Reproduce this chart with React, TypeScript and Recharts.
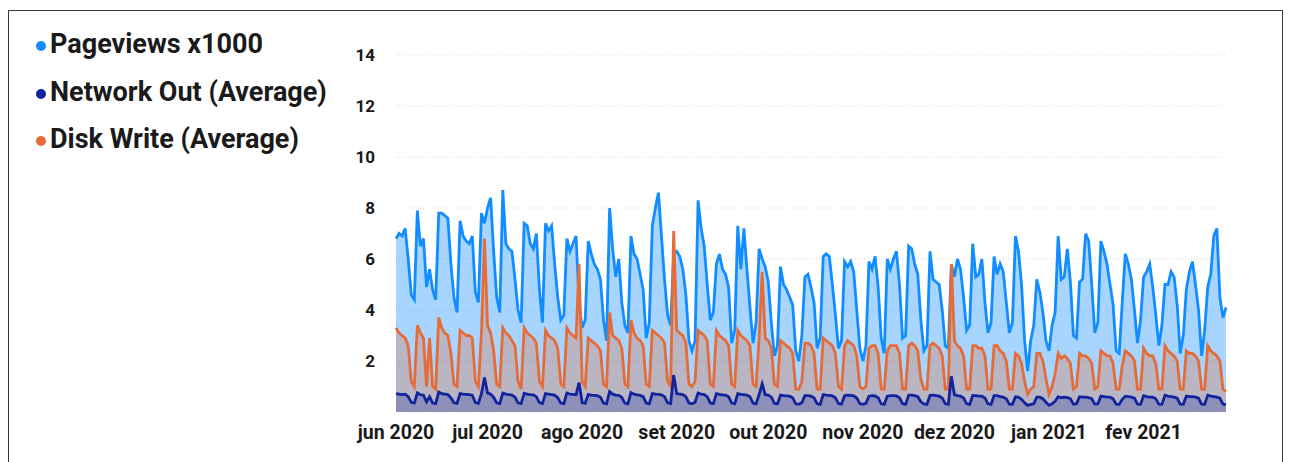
import React from 'react';
import { ComposedChart, Area, XAxis, YAxis, CartesianGrid } from 'recharts';

// Daily data from 1 Jun 2020 (Mon) to 28 Feb 2021 (Sun), one row per week (Mon..Sun)
const monthTicks = [0, 30, 61, 92, 122, 153, 183, 214, 245];
const monthLabels = ['jun 2020', 'jul 2020', 'ago 2020', 'set 2020', 'out 2020', 'nov 2020', 'dez 2020', 'jan 2021', 'fev 2021'];
const yTicks = [2, 4, 6, 8, 10, 12, 14];

const pageviews = [
  6.8, 7.0, 6.9, 7.2, 6.0, 4.6, 4.4,
  7.9, 6.5, 6.8, 4.9, 5.6, 4.8, 4.4,
  7.8, 7.8, 7.7, 7.6, 5.8, 4.5, 3.9,
  7.5, 6.9, 6.7, 6.6, 6.9, 4.7, 4.3,
  7.8, 7.4, 8.0, 8.4, 6.3, 4.5, 3.9,
  8.7, 6.6, 6.4, 6.3, 5.2, 4.0, 3.5,
  7.4, 7.3, 6.6, 6.4, 7.0, 4.8, 3.5,
  7.4, 7.1, 7.3, 5.8, 4.5, 3.6, 3.8,
  6.8, 6.3, 6.6, 6.9, 4.3, 3.3, 3.6,
  6.7, 6.2, 5.8, 5.6, 5.2, 3.6, 2.8,
  8.0, 6.4, 5.3, 6.0, 4.3, 3.4, 3.1,
  6.9, 6.2, 6.0, 5.4, 4.8, 2.9, 3.5,
  7.3, 8.0, 8.6, 6.9, 5.2, 3.8, 3.4,
  6.2, 6.3, 6.1, 5.6, 4.6, 2.8, 2.4,
  2.8, 8.3, 7.2, 6.5, 5.0, 3.6, 3.9,
  5.8, 6.2, 5.6, 5.4, 4.9, 2.7, 3.2,
  7.3, 5.6, 7.2, 5.6, 4.1, 2.7, 3.5,
  6.4, 6.0, 5.7, 5.1, 3.5, 2.2, 2.6,
  5.7, 5.0, 4.8, 4.5, 4.2, 2.4, 2.0,
  3.0, 5.3, 5.4, 4.9, 4.3, 2.5, 2.9,
  6.1, 6.2, 6.1, 5.0, 3.8, 2.5, 2.8,
  5.9, 5.7, 5.9, 5.5, 4.0, 2.5, 2.0,
  2.6, 5.9, 5.6, 6.1, 4.9, 2.9, 2.3,
  6.0, 5.6, 6.0, 6.3, 5.0, 2.9, 3.0,
  6.5, 6.4, 5.8, 5.4, 3.6, 2.4, 2.6,
  6.3, 5.2, 5.1, 5.0, 4.0, 2.6, 2.5,
  5.8, 5.3, 6.0, 5.6, 4.5, 3.2, 3.4,
  6.6, 5.3, 5.4, 6.0, 4.3, 3.1, 3.5,
  6.1, 5.4, 5.8, 5.5, 4.3, 3.1, 3.5,
  6.9, 6.3, 5.0, 2.8, 1.6, 2.8, 3.4,
  5.2, 4.7, 3.9, 2.8, 2.4, 3.4, 3.9,
  6.9, 5.2, 5.3, 6.4, 5.1, 3.0, 2.9,
  5.1, 5.2, 7.0, 6.7, 5.0, 3.1, 3.5,
  6.7, 6.3, 5.8, 5.0, 4.2, 2.4, 2.3,
  4.3, 6.2, 5.8, 5.2, 4.0, 2.7, 3.6,
  5.3, 5.5, 5.8, 4.9, 3.8, 2.6, 3.4,
  5.0, 5.0, 5.5, 5.3, 4.2, 2.3, 3.0,
  4.8, 5.5, 5.9, 5.0, 4.0, 2.2, 3.2,
  4.9, 5.4, 6.9, 7.2, 4.5, 3.7, 4.1,
];

const networkOut = [
  0.72, 0.70, 0.68, 0.70, 0.60, 0.38, 0.35,
  0.75, 0.68, 0.66, 0.40, 0.60, 0.35, 0.33,
  0.78, 0.72, 0.70, 0.68, 0.55, 0.36, 0.34,
  0.72, 0.70, 0.69, 0.68, 0.66, 0.37, 0.34,
  0.72, 1.35, 0.75, 0.70, 0.58, 0.36, 0.33,
  0.74, 0.70, 0.68, 0.66, 0.58, 0.36, 0.33,
  0.73, 0.70, 0.68, 0.67, 0.60, 0.37, 0.33,
  0.72, 0.70, 0.68, 0.66, 0.56, 0.35, 0.33,
  0.74, 0.70, 0.69, 0.68, 1.15, 0.37, 0.34,
  0.68, 0.66, 0.65, 0.64, 0.58, 0.35, 0.32,
  0.80, 0.70, 0.66, 0.65, 0.57, 0.35, 0.32,
  0.76, 0.70, 0.67, 0.65, 0.60, 0.35, 0.32,
  0.72, 0.70, 0.69, 0.67, 0.60, 0.36, 0.33,
  1.45, 0.72, 0.70, 0.68, 0.60, 0.35, 0.32,
  0.38, 0.74, 0.70, 0.68, 0.60, 0.35, 0.33,
  0.72, 0.69, 0.67, 0.66, 0.60, 0.35, 0.32,
  0.72, 0.69, 0.68, 0.66, 0.60, 0.35, 0.32,
  0.68, 1.10, 0.68, 0.66, 0.58, 0.34, 0.32,
  0.66, 0.64, 0.63, 0.62, 0.56, 0.32, 0.30,
  0.36, 0.64, 0.64, 0.62, 0.56, 0.32, 0.30,
  0.68, 0.66, 0.65, 0.63, 0.56, 0.33, 0.31,
  0.64, 0.66, 0.65, 0.63, 0.55, 0.33, 0.30,
  0.34, 0.62, 0.64, 0.63, 0.56, 0.32, 0.30,
  0.62, 0.64, 0.64, 0.63, 0.56, 0.32, 0.30,
  0.66, 0.66, 0.64, 0.60, 0.40, 0.32, 0.30,
  0.65, 0.66, 0.64, 0.62, 0.55, 0.32, 0.30,
  1.40, 0.68, 0.64, 0.62, 0.55, 0.32, 0.30,
  0.65, 0.64, 0.62, 0.62, 0.55, 0.32, 0.30,
  0.64, 0.64, 0.60, 0.58, 0.52, 0.31, 0.30,
  0.60, 0.58, 0.50, 0.36, 0.26, 0.30, 0.32,
  0.58, 0.58, 0.52, 0.38, 0.26, 0.32, 0.42,
  0.60, 0.56, 0.58, 0.56, 0.52, 0.31, 0.32,
  0.60, 0.58, 0.58, 0.56, 0.52, 0.31, 0.32,
  0.62, 0.60, 0.58, 0.58, 0.52, 0.31, 0.30,
  0.50, 0.62, 0.60, 0.58, 0.54, 0.31, 0.30,
  0.64, 0.60, 0.58, 0.58, 0.52, 0.31, 0.30,
  0.66, 0.62, 0.60, 0.58, 0.54, 0.31, 0.30,
  0.62, 0.60, 0.60, 0.58, 0.54, 0.31, 0.30,
  0.66, 0.62, 0.60, 0.58, 0.54, 0.31, 0.28,
];

const diskWrite = [
  3.3, 3.1, 3.0, 2.9, 2.6, 1.2, 1.0,
  3.4, 3.1, 2.9, 1.0, 2.9, 1.0, 0.9,
  3.7, 3.3, 3.1, 3.0, 2.3, 1.1, 1.0,
  3.2, 3.1, 3.0, 3.0, 2.9, 1.2, 1.0,
  3.1, 6.8, 3.4, 3.1, 2.4, 1.1, 1.0,
  3.3, 3.1, 3.0, 2.8, 2.6, 1.2, 0.9,
  3.3, 3.1, 3.0, 2.9, 2.7, 1.2, 1.0,
  3.2, 3.0, 2.9, 2.8, 2.5, 1.1, 1.0,
  3.3, 3.1, 3.0, 2.9, 5.8, 1.2, 1.0,
  2.9, 2.8, 2.7, 2.6, 2.4, 1.1, 1.0,
  3.9, 3.0, 2.9, 2.8, 2.5, 1.1, 1.0,
  3.6, 3.1, 2.9, 2.8, 2.6, 1.1, 1.0,
  3.2, 3.1, 3.0, 2.9, 2.7, 1.2, 1.0,
  7.1, 3.2, 3.1, 3.0, 2.7, 1.1, 1.0,
  1.2, 3.2, 3.1, 3.0, 2.8, 1.1, 1.0,
  3.2, 3.0, 2.9, 2.8, 2.6, 1.1, 1.0,
  3.2, 3.0, 2.9, 2.8, 2.6, 1.1, 1.0,
  2.9, 5.5, 2.9, 2.8, 2.5, 1.1, 1.0,
  2.8, 2.7, 2.6, 2.5, 2.3, 0.9, 0.9,
  1.2, 2.7, 2.7, 2.6, 2.3, 0.9, 0.9,
  2.9, 2.8, 2.7, 2.6, 2.3, 1.0, 0.9,
  2.6, 2.8, 2.7, 2.6, 2.2, 1.0, 0.9,
  1.0, 2.5, 2.6, 2.6, 2.3, 0.9, 0.9,
  2.4, 2.6, 2.6, 2.6, 2.3, 0.9, 0.9,
  2.6, 2.7, 2.6, 2.4, 1.3, 0.9, 0.9,
  2.6, 2.7, 2.6, 2.5, 2.2, 0.9, 0.9,
  5.8, 2.8, 2.6, 2.5, 2.2, 0.9, 0.9,
  2.6, 2.6, 2.5, 2.5, 2.2, 0.9, 0.9,
  2.6, 2.6, 2.4, 2.3, 2.0, 0.9, 0.9,
  2.3, 2.2, 1.9, 1.2, 0.7, 0.9, 1.0,
  2.3, 2.3, 2.0, 1.3, 0.7, 1.0, 1.5,
  2.3, 2.1, 2.2, 2.1, 1.9, 0.9, 1.0,
  2.3, 2.2, 2.2, 2.1, 1.9, 0.9, 1.0,
  2.4, 2.3, 2.2, 2.2, 1.9, 0.9, 0.9,
  1.8, 2.4, 2.3, 2.2, 2.0, 0.9, 0.9,
  2.5, 2.3, 2.2, 2.2, 1.9, 0.9, 0.9,
  2.6, 2.4, 2.3, 2.2, 2.0, 0.9, 0.9,
  2.4, 2.3, 2.3, 2.2, 2.0, 0.9, 0.9,
  2.6, 2.4, 2.3, 2.2, 2.0, 0.9, 0.8,
];

const seriesNames = ['Pageviews x1000', 'Network Out (Average)', 'Disk Write (Average)'];
const seriesColors = ['#118DFF', '#12239E', '#E66C37'];

const data = pageviews.map((p, i) => ({
  day: i,
  pageviews: p,
  networkOut: networkOut[i],
  diskWrite: diskWrite[i],
}));

const monthLabel = (v: number) => {
  const idx = monthTicks.indexOf(v);
  return idx >= 0 ? monthLabels[idx] : '';
};

const FONT = 'Roboto, "Noto Sans", sans-serif';

export default function App() {
  return (
    <div style={{ position: 'absolute', left: 0, top: 0, width: 1291, height: 462, background: '#fff', overflow: 'hidden' }}>
      <div
        style={{
          position: 'absolute',
          left: 8,
          top: 10,
          width: 1275,
          height: 470,
          borderTop: '1px solid #3a3a3a',
          borderLeft: '1px solid #3a3a3a',
          borderRight: '1px solid #3a3a3a',
          boxSizing: 'border-box',
        }}
      />
      <div style={{ position: 'absolute', left: 34, top: 30, fontFamily: FONT }}>
        {seriesNames.map((name, i) => (
          <div key={name} style={{ position: 'absolute', top: i * 47.5, left: 0, height: 30, whiteSpace: 'nowrap' }}>
            <span
              style={{
                position: 'absolute',
                left: 2,
                top: 11,
                width: 10,
                height: 10,
                borderRadius: '50%',
                background: seriesColors[i],
              }}
            />
            <span
              style={{
                position: 'absolute',
                left: 16,
                top: 0,
                fontSize: 27,
                lineHeight: '28px',
                fontWeight: 700,
                color: '#1a1a1a',
              }}
            >
              {name}
            </span>
          </div>
        ))}
      </div>
      <div style={{ position: 'absolute', left: 0, top: 0 }}>
        <ComposedChart
          width={1291}
          height={462}
          data={data}
          margin={{ top: 55, right: 65, bottom: 20, left: 336 }}
        >
          <CartesianGrid vertical={false} stroke="#d9d9d9" strokeDasharray="1 2" />
          <XAxis
            dataKey="day"
            type="number"
            domain={[0, 272]}
            ticks={monthTicks}
            tickFormatter={monthLabel}
            axisLine={false}
            tickLine={false}
            height={30}
            tickMargin={7}
            interval={0}
            tick={{ fontFamily: FONT, fontSize: 19.5, fontWeight: 700, fill: '#1a1a1a' }}
          />
          <YAxis
            type="number"
            domain={[0, 14]}
            ticks={yTicks}
            axisLine={false}
            tickLine={false}
            width={60}
            tickMargin={15}
            interval={0}
            tick={{ fontFamily: FONT, fontSize: 17, fontWeight: 700, fill: '#1a1a1a' }}
          />
          <Area
            type="linear"
            dataKey="pageviews"
            name={seriesNames[0]}
            stroke={seriesColors[0]}
            strokeWidth={2.8}
            fill={seriesColors[0]}
            fillOpacity={0.37}
            isAnimationActive={false}
            dot={false}
            activeDot={false}
          />
          <Area
            type="linear"
            dataKey="diskWrite"
            name={seriesNames[2]}
            stroke={seriesColors[2]}
            strokeWidth={2.8}
            fill={seriesColors[2]}
            fillOpacity={0.3}
            isAnimationActive={false}
            dot={false}
            activeDot={false}
          />
          <Area
            type="linear"
            dataKey="networkOut"
            name={seriesNames[1]}
            stroke={seriesColors[1]}
            strokeWidth={2.8}
            fill={seriesColors[1]}
            fillOpacity={0.25}
            isAnimationActive={false}
            dot={false}
            activeDot={false}
          />
        </ComposedChart>
      </div>
    </div>
  );
}
